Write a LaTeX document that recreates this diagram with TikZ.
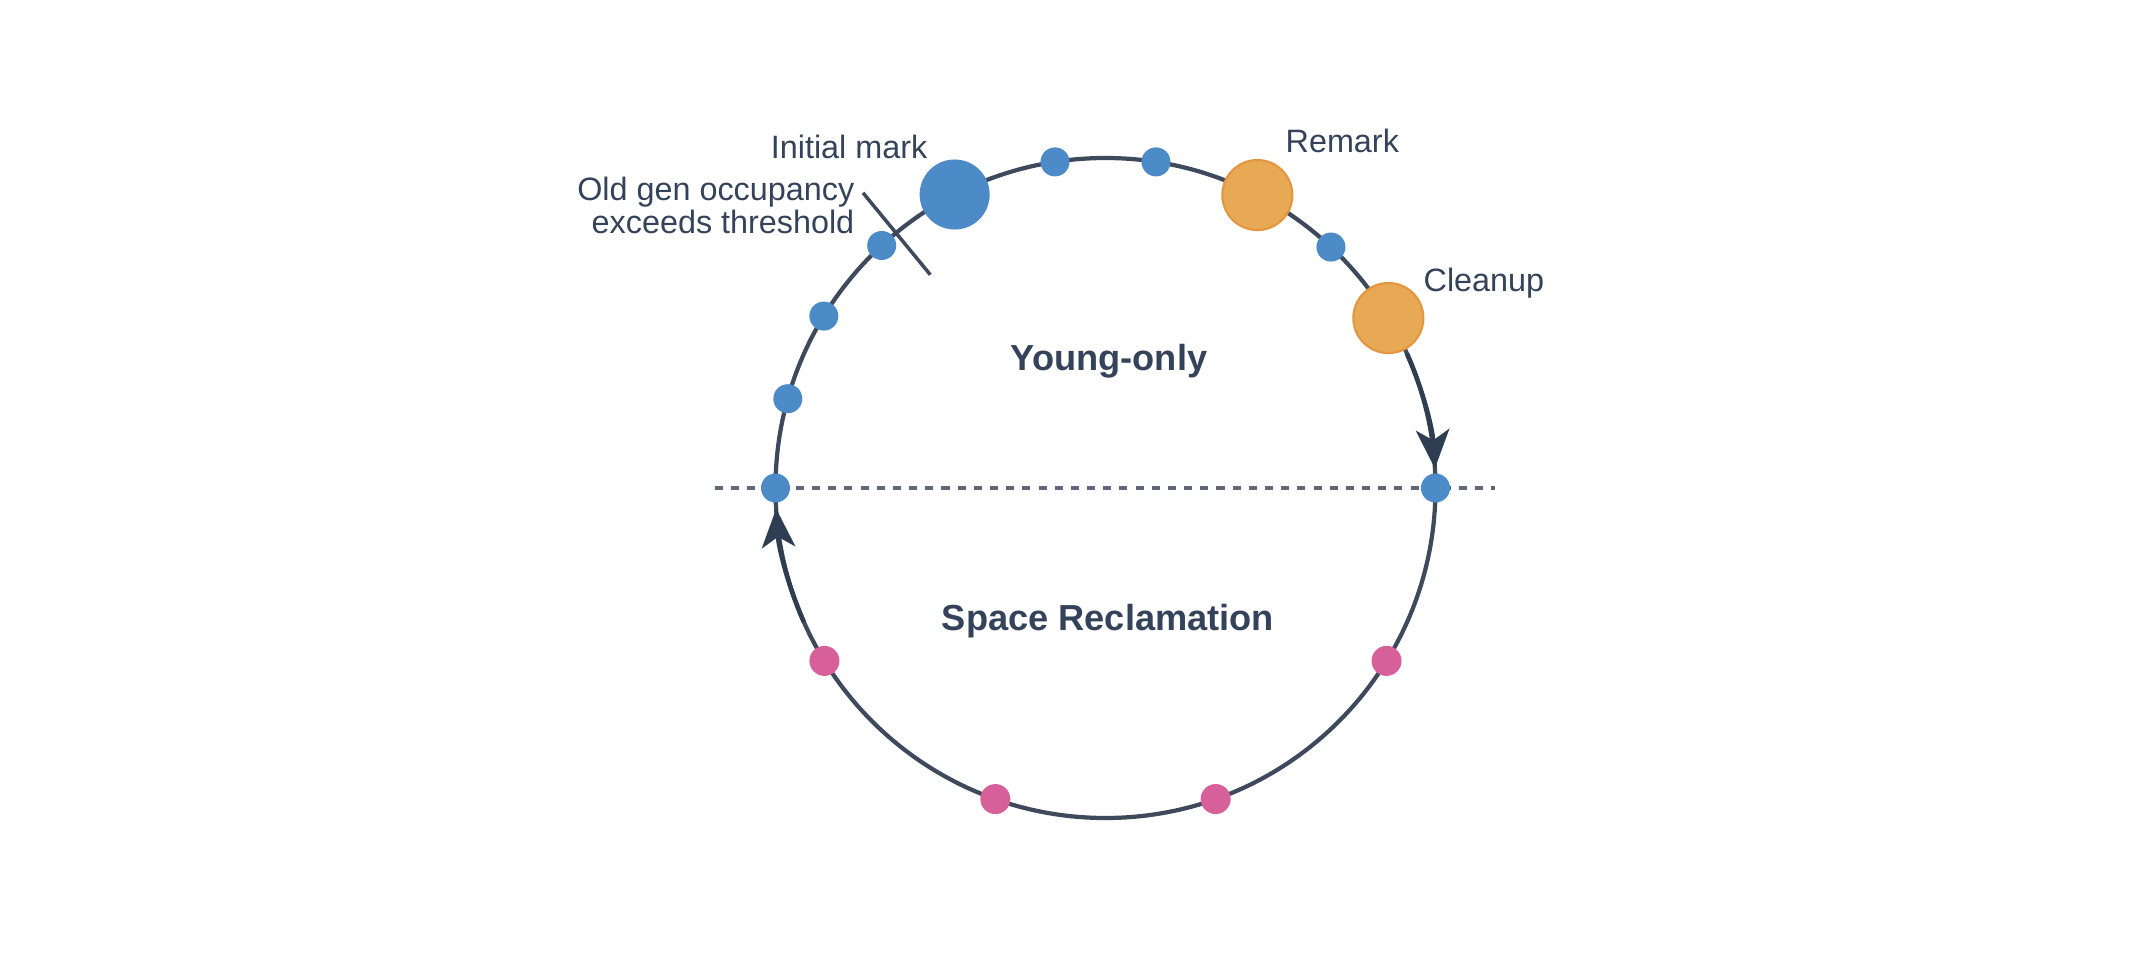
\documentclass[tikz,border=0pt]{standalone}
\usepackage{fontspec}
\setmainfont{Liberation Sans}
\usepackage{xcolor}
\usetikzlibrary{arrows.meta}
\definecolor{ringline}{HTML}{3E4A5C}
\definecolor{arrowdark}{HTML}{2E3D52}
\definecolor{labeltext}{HTML}{34435A}
\definecolor{dashgray}{HTML}{5E6878}
\definecolor{phaseblue}{HTML}{4D8AC8}
\definecolor{phaseorange}{HTML}{E8A955}
\definecolor{orangeedge}{HTML}{E39540}
\definecolor{reclaimpink}{HTML}{D8609A}
\tikzset{every node/.append style={font=\fontsize{9.2}{9.4}\selectfont,text=labeltext,inner sep=0pt}}
\tikzset{
  smalldot/.style={circle,fill=phaseblue,minimum size=0.29cm},
  pinkdot/.style={circle,fill=reclaimpink,minimum size=0.30cm},
  bigblue/.style={circle,fill=phaseblue,minimum size=0.70cm},
  bigorange/.style={circle,fill=phaseorange,draw=orangeedge,line width=0.6pt,minimum size=0.70cm},
  phasetitle/.style={font=\fontsize{10.3}{12}\selectfont\bfseries}
}

\begin{document}
\begin{tikzpicture}[x=0.01cm,y=0.01cm,>={Stealth[length=11pt,width=9.5pt,inset=3pt]}]
  \useasboundingbox (-1105.5,-466) rectangle (1050.5,488);
  % divider between the two phases
  \draw[dashgray,line width=1.1pt,dash pattern=on 2.3pt off 2.3pt] (-390.5,0) -- (389.5,0);
  \draw[ringline,line width=1.2pt] (0,0) circle (330);
  \draw[->,arrowdark,line width=1.3pt] (24:330) arc[start angle=24,end angle=3.4,radius=330];
  \draw[->,arrowdark,line width=1.3pt] (204:330) arc[start angle=204,end angle=183.6,radius=330];
  % threshold tick
  \draw[ringline,line width=1pt] (129.4:276) -- (129.4:382);
  % young-only collections
  \foreach \ang/\name in {98.8/ya,81.2/yb,46.9/yc,132.7/yd,148.6/ye,164.3/yf,180/yg,0/yh}
    \node[smalldot] (\name) at (\ang:330) {};
  % mixed collections
  \foreach \ang/\name in {211.6/ra,250.5/rb,289.5/rc,328.4/rd}
    \node[pinkdot] (\name) at (\ang:330) {};
  \node[bigblue] (initial) at (117.2:330) {};
  \node[bigorange] (remark) at (62.6:330) {};
  \node[bigorange] (cleanup) at (31:330) {};
  \node[anchor=base east] (initlabel) at (-177.5,330) {Initial mark};
  \node[anchor=east,align=right] (threshlabel) at (-250.5,283)
    {Old gen occupancy\\exceeds threshold};
  \node[anchor=base west] (remarklabel) at (179.5,335) {Remark};
  \node[anchor=base west] (cleanlabel) at (317.5,196) {Cleanup};
  \node[phasetitle,anchor=base] (young) at (3.5,118) {Young-only};
  \node[phasetitle,anchor=base] (reclaim) at (2.5,-142) {Space Reclamation};
\end{tikzpicture}
\end{document}
